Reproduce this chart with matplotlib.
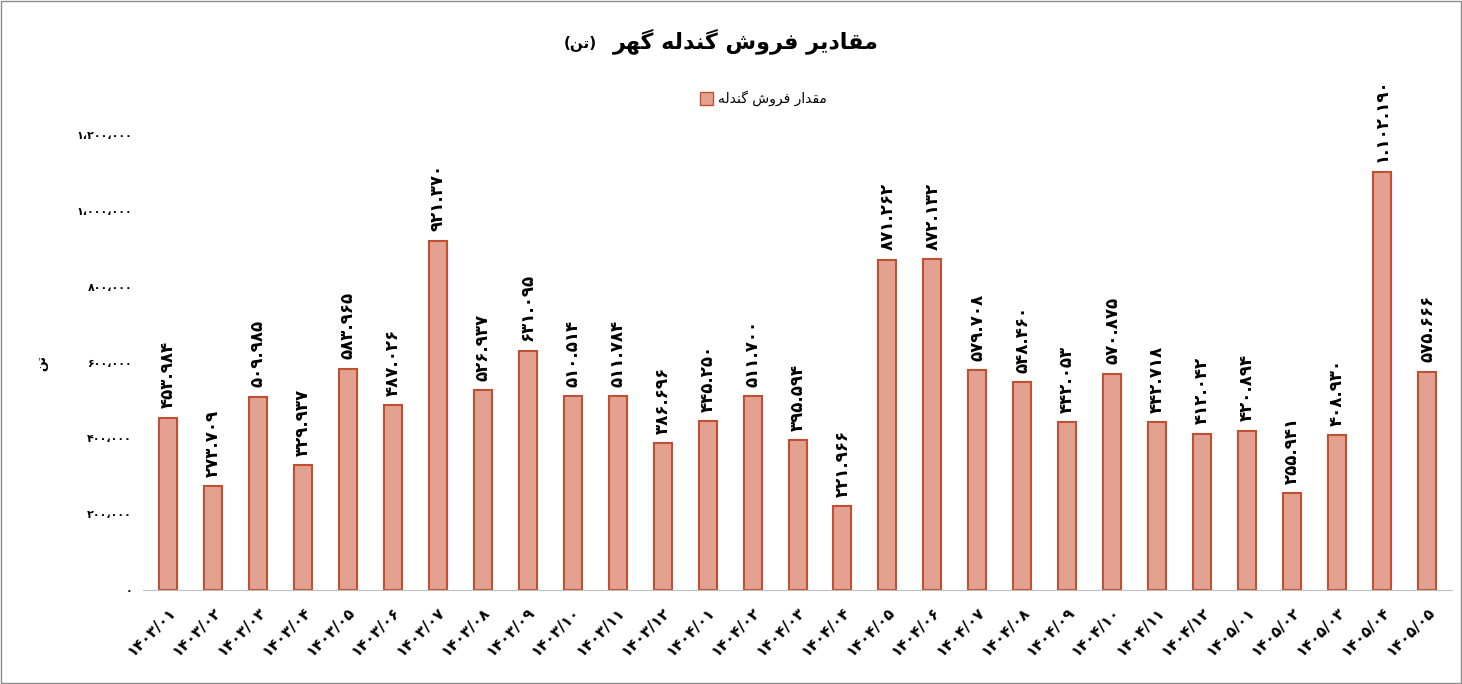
import matplotlib
matplotlib.use("Agg")
import matplotlib.pyplot as plt
from matplotlib.patches import Rectangle

months = ["1403/01", "1403/02", "1403/03", "1403/04", "1403/05", "1403/06", "1403/07", "1403/08",
          "1403/09", "1403/10", "1403/11", "1403/12", "1404/01", "1404/02", "1404/03", "1404/04",
          "1404/05", "1404/06", "1404/07", "1404/08", "1404/09", "1404/10", "1404/11", "1404/12",
          "1405/01", "1405/02", "1405/03", "1405/04", "1405/05"]
sales = [453984, 273709, 509985, 329937, 583965, 487026, 921370, 526937,
         631095, 510514, 511784, 386696, 445250, 511700, 395594, 221966,
         871262, 872132, 579708, 548460, 442053, 570875, 442718, 412042,
         420894, 255941, 408930, 1102190, 575666]
yticks = [0, 200000, 400000, 600000, 800000, 1000000, 1200000]

# tiny persian shaper: isolated, final, initial, medial
FORMS = {
    "ا": ("\uFE8D", "\uFE8E", None, None),
    "د": ("\uFEA9", "\uFEAA", None, None),
    "ر": ("\uFEAD", "\uFEAE", None, None),
    "و": ("\uFEED", "\uFEEE", None, None),
    "ت": ("\uFE95", "\uFE96", "\uFE97", "\uFE98"),
    "ش": ("\uFEB5", "\uFEB6", "\uFEB7", "\uFEB8"),
    "ف": ("\uFED1", "\uFED2", "\uFED3", "\uFED4"),
    "ق": ("\uFED5", "\uFED6", "\uFED7", "\uFED8"),
    "ل": ("\uFEDD", "\uFEDE", "\uFEDF", "\uFEE0"),
    "م": ("\uFEE1", "\uFEE2", "\uFEE3", "\uFEE4"),
    "ن": ("\uFEE5", "\uFEE6", "\uFEE7", "\uFEE8"),
    "ه": ("\uFEE9", "\uFEEA", "\uFEEB", "\uFEEC"),
    "ی": ("\uFBFC", "\uFBFD", "\uFBFE", "\uFBFF"),
    "گ": ("\uFB92", "\uFB93", "\uFB94", "\uFB95"),
}


def fa(s):
    out = []
    for i, c in enumerate(s):
        if c not in FORMS:
            out.append(c)
            continue
        prev = s[i - 1] if i > 0 else ""
        nxt = s[i + 1] if i + 1 < len(s) else ""
        jp = prev in FORMS and FORMS[prev][2] is not None
        jn = nxt in FORMS and FORMS[c][2] is not None
        f = FORMS[c]
        if jp and jn:
            out.append(f[3])
        elif jp:
            out.append(f[1])
        elif jn:
            out.append(f[2])
        else:
            out.append(f[0])
    r = "".join(out)[::-1]
    return r.translate(str.maketrans("()", ")("))


def pdig(s):
    return s.translate(str.maketrans("0123456789", "۰۱۲۳۴۵۶۷۸۹"))


def num(v, sep):
    return pdig(f"{v:,}").replace(",", sep)


plt.rcParams['font.family'] = ['DejaVu Sans']
fig = plt.figure(figsize=(14.62, 6.84), dpi=100)
ax = fig.add_axes([0.098, 0.137, 0.895, 0.666])

x = range(len(months))
ax.bar(x, sales, width=0.4, color="#E3A192", edgecolor="#C0502F", linewidth=1.5, zorder=2)
for i, v in enumerate(sales):
    ax.text(i, v + 25000, num(v, "."), rotation=90, ha="center", va="bottom",
            fontsize=12, fontweight="bold")

ax.set_xlim(-0.55, len(months) - 0.45)
ax.set_ylim(0, 1200000)
ax.set_yticks(yticks)
ax.set_yticklabels([num(v, "،") for v in yticks], fontsize=8, fontweight="bold")
ax.set_xticks(list(x))
ax.set_xticklabels([pdig(m) for m in months], rotation=45, ha="right",
                   rotation_mode="anchor", fontsize=11, fontweight="bold")
ax.tick_params(length=0, pad=8)
ax.tick_params(axis="x", pad=10)
for s in ["top", "right", "left"]:
    ax.spines[s].set_visible(False)
ax.spines["bottom"].set_color("#BFBFBF")
ax.set_ylabel(fa("تن"), fontsize=9, fontweight="bold", labelpad=20)

fig.text(0.51, 0.94, fa("مقادیر فروش گندله گهر"), ha="center", va="center",
         fontsize=16, fontweight="bold")
fig.text(0.408, 0.937, fa("(تن)"), ha="right", va="center", fontsize=11, fontweight="bold")
fig.patches.append(Rectangle((0.4785, 0.847), 0.009, 0.018, transform=fig.transFigure,
                             facecolor="#E3A192", edgecolor="#C0502F", linewidth=1))
fig.text(0.491, 0.856, fa("مقدار فروش گندله"), ha="left", va="center", fontsize=10)
fig.patches.append(Rectangle((0.001, 0.001), 0.998, 0.997, transform=fig.transFigure,
                             fill=False, edgecolor="#8C8C8C", linewidth=1))

fig.savefig("out.png")
